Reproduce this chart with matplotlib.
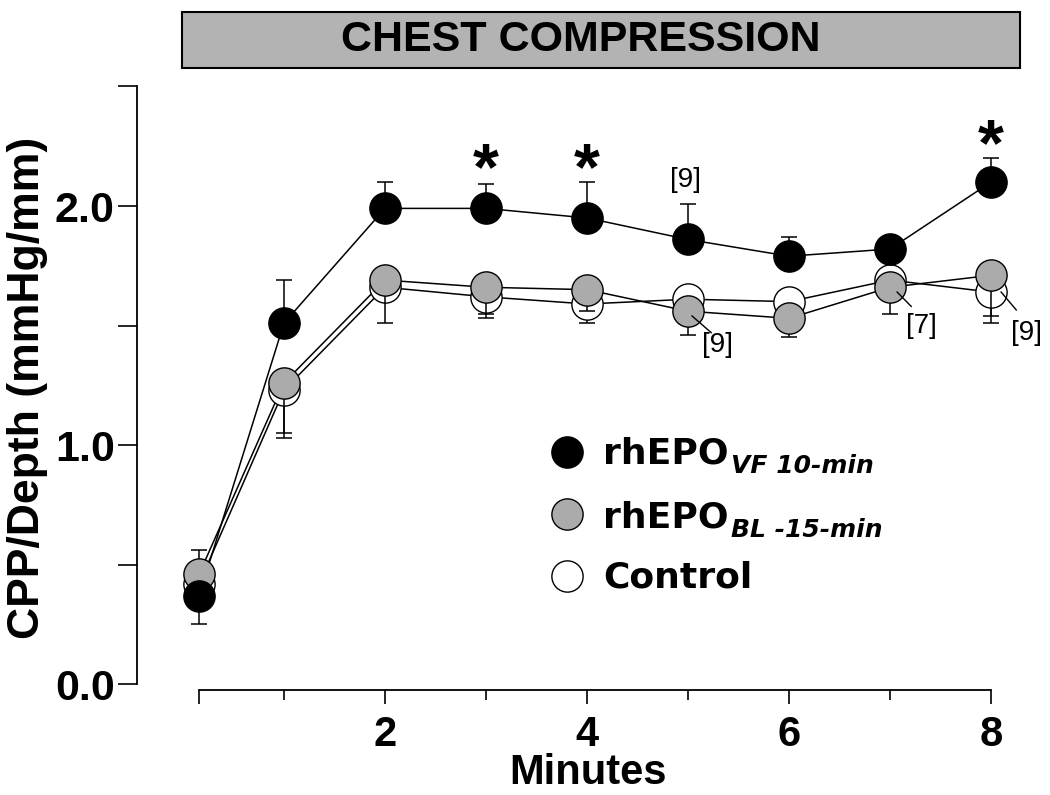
import numpy as np
import matplotlib
matplotlib.use("Agg")
import matplotlib.pyplot as plt
from matplotlib.patches import Rectangle
from matplotlib.transforms import IdentityTransform

# data
minutes = [0.16, 1, 2, 3, 4, 5, 6, 7, 8]

vf10 = [0.37, 1.51, 1.99, 1.99, 1.95, 1.86, 1.79, 1.82, 2.10]
vf10_lo = [0.12, 0, 0, 0, 0, 0, 0, 0, 0]
vf10_hi = [0, 0.18, 0.11, 0.10, 0.15, 0.15, 0.08, 0.05, 0.10]

bl15 = [0.46, 1.26, 1.69, 1.66, 1.65, 1.56, 1.53, 1.66, 1.71]
bl15_lo = [0, 0.21, 0.18, 0.11, 0.09, 0.10, 0.08, 0.11, 0.20]
bl15_hi = [0.10, 0, 0, 0, 0, 0, 0, 0, 0]

control = [0.42, 1.23, 1.66, 1.62, 1.59, 1.61, 1.60, 1.69, 1.64]
control_lo = [0, 0.20, 0.05, 0.09, 0.08, 0.05, 0.05, 0.05, 0.10]
control_hi = [0, 0, 0, 0, 0, 0, 0, 0, 0]

star_x = [3, 4, 8]
star_y = [2.19, 2.19, 2.29]

n_labels = ["[9]", "[9]", "[7]", "[9]"]
n_text_xy = [(4.98, 2.11), (5.29, 1.42), (7.31, 1.50), (8.35, 1.47)]
n_line_from = [None, (5.04, 1.54), (7.07, 1.64), (8.10, 1.64)]
n_line_to = [None, (5.23, 1.47), (7.21, 1.58), (8.25, 1.565)]

legend_names = ["rhEPO", "rhEPO", "Control"]
legend_subs = ["VF 10-min", "BL -15-min", ""]

BOLD = ["Liberation Sans", "DejaVu Sans"]
WIDE = ["DejaVu Sans"]
GRAY = "#ababab"

W, H = 1050, 795
fig = plt.figure(figsize=(W / 100, H / 100), dpi=100)
ax_l, ax_r, ax_b, ax_t = 137, 1010, 690, 86.5
ax = fig.add_axes([ax_l / W, 1 - ax_b / H, (ax_r - ax_l) / W, (ax_b - ax_t) / H])

ax.set_xlim(-0.455, 8.188)
ax.set_ylim(-0.025, 2.5)

series = [
    (control, control_lo, control_hi, "white", 2),
    (bl15, bl15_lo, bl15_hi, GRAY, 4),
    (vf10, vf10_lo, vf10_hi, "black", 6),
]
for y, lo, hi, fc, z in series:
    ax.plot(minutes, y, color="black", lw=1.1, zorder=1.5, solid_capstyle="butt")
    ax.errorbar(minutes, y, yerr=[lo, hi], fmt="none", ecolor="black",
                elinewidth=1.1, capsize=6, capthick=1.1, zorder=z)
    ax.plot(minutes, y, ls="none", marker="o", ms=22.5, mfc=fc, mec="black",
            mew=1.0, zorder=z + 0.5)

# significance stars
for sx, sy in zip(star_x, star_y):
    ax.text(sx, sy - 0.12, "*", fontsize=48, fontweight="bold", family=BOLD,
            ha="center", va="baseline", zorder=10)

# n labels with leader lines
for lab, (tx, ty), p0, p1 in zip(n_labels, n_text_xy, n_line_from, n_line_to):
    ax.text(tx, ty, lab, fontsize=20, family=BOLD, ha="center", va="center")
    if p0 is not None:
        ax.plot([p0[0], p1[0]], [p0[1], p1[1]], color="black", lw=1.0,
                zorder=8, clip_on=False)

# axes styling
for s in ["top", "right"]:
    ax.spines[s].set_visible(False)
for s in ["left", "bottom"]:
    ax.spines[s].set_linewidth(1.3)
ax.spines["left"].set_bounds(0, 2.5)
ax.spines["bottom"].set_bounds(minutes[0], 8)

ax.set_yticks(np.arange(0, 2.51, 0.5))
ax.set_yticklabels(["0.0", "", "1.0", "", "2.0", ""])
ax.tick_params(axis="y", length=14, width=1.2, pad=2, labelsize=31)
for t in ax.get_yticklabels():
    t.set_family(BOLD)
    t.set_fontweight("bold")

ax.set_xticks([minutes[0], 2, 4, 6, 8])
ax.set_xticklabels(["", "2", "4", "6", "8"])
ax.set_xticks([1, 3, 5, 7], minor=True)
ax.tick_params(axis="x", which="major", length=10, width=1.2, pad=8, labelsize=30)
ax.tick_params(axis="x", which="minor", length=7, width=1.2)
for t in ax.get_xticklabels():
    t.set_family(BOLD)
    t.set_fontweight("bold")

ax.set_ylabel("CPP/Depth (mmHg/mm)", fontsize=32, fontweight="bold", family=BOLD,
              va="center")
ax.yaxis.set_label_coords((28 - ax_l) / (ax_r - ax_l), (ax_b - 388) / (ax_b - ax_t))
ax.set_xlabel("Minutes", fontsize=30, fontweight="bold", family=BOLD, va="center")
ax.xaxis.set_label_coords((588 - ax_l) / (ax_r - ax_l), (ax_b - 773) / (ax_b - ax_t))

# header box
fig.patches.append(Rectangle((182 / W, 1 - 68 / H), 838 / W, 56 / H,
                             transform=fig.transFigure, facecolor="#b3b3b3",
                             edgecolor="black", lw=1.5))
fig.text(581 / W, 1 - 40 / H, "CHEST COMPRESSION", fontsize=31, fontweight="bold",
         family=BOLD, ha="center", va="center")

# legend drawn by hand (subscripts in bold italic)
def ax_frac(px, py):
    return (px - ax_l) / (ax_r - ax_l), (ax_b - py) / (ax_b - ax_t)

leg_marker_y = [452, 514, 576]
leg_base_y = [463, 527, 588]
leg_colors = ["black", GRAY, "white"]
main_texts = []
for name, my, by, fc in zip(legend_names, leg_marker_y, leg_base_y, leg_colors):
    ax.plot(*ax_frac(567, my), transform=ax.transAxes, marker="o", ms=22.5,
            mfc=fc, mec="black", mew=1.0, clip_on=False)
    main_texts.append(ax.text(*ax_frac(603, by), name, transform=ax.transAxes,
                              fontsize=26, fontweight="bold", family=WIDE,
                              ha="left", va="baseline"))

fig.canvas.draw()
r = fig.canvas.get_renderer()
for t, sub, by in zip(main_texts, legend_subs, leg_base_y):
    if not sub:
        continue
    bb = t.get_window_extent(r)
    fig.text(bb.x1 + 2, (H - by) - 10, sub, transform=IdentityTransform(),
             fontsize=18, fontweight="bold", style="italic", family=WIDE,
             ha="left", va="baseline")

fig.savefig("out.png", dpi=100)
